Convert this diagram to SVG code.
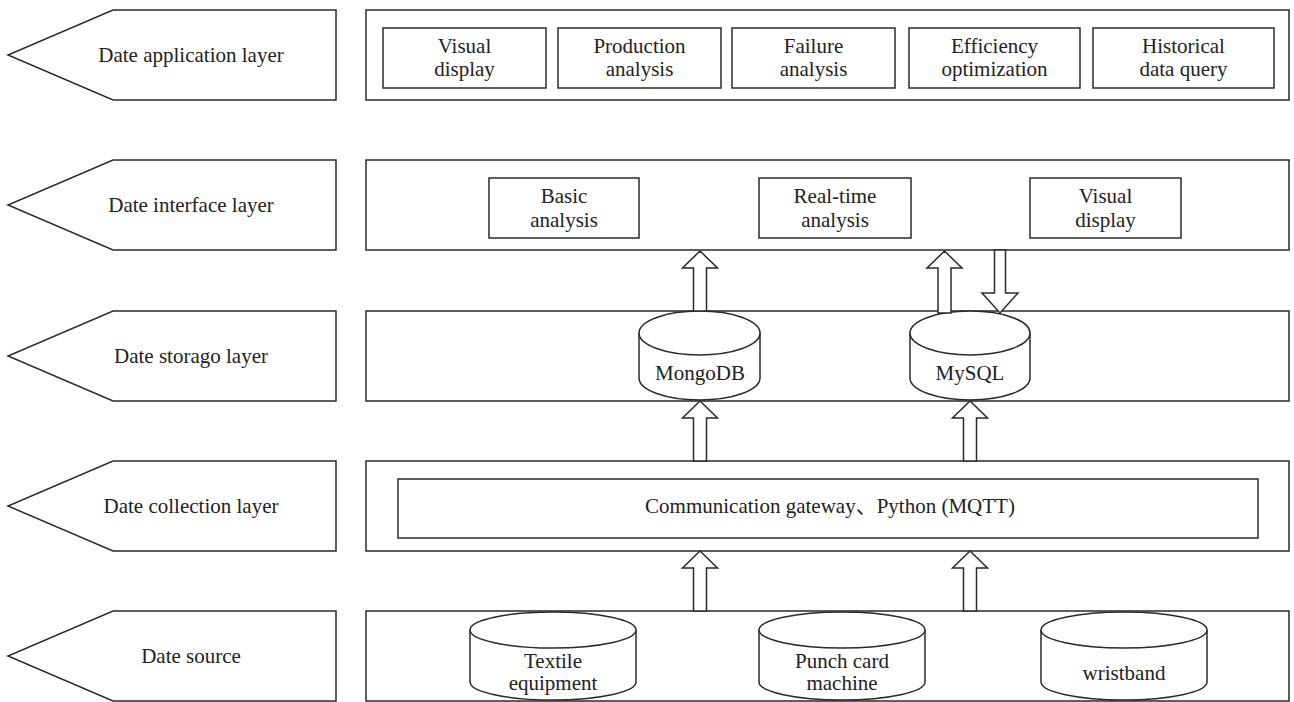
<svg xmlns="http://www.w3.org/2000/svg" width="1294" height="702" viewBox="0 0 1294 702">
<style>
.s{fill:#fff;stroke:#2a2a2a;stroke-width:1.5}
.t{font-family:"Liberation Serif","Noto Sans CJK SC",serif;font-size:21px;fill:#222;text-anchor:middle}
.l{font-family:"Liberation Serif",serif;font-size:21px;fill:#222;text-anchor:middle}
</style>
<defs>
<path id="up" class="s" d="M0,0 L17.5,17 L6.5,17 L6.5,60 L-6.5,60 L-6.5,17 L-17.5,17 Z"/>
</defs>
<rect width="1294" height="702" fill="#fff"/>

<g id="label-application"><path class="s" d="M113,10 L336,10 L336,100 L113,100 L8,55 Z"/><text class="l" x="191" y="62">Date application layer</text></g>
<g id="label-interface"><path class="s" d="M113,160 L336,160 L336,250 L113,250 L8,205 Z"/><text class="l" x="191" y="212">Date interface layer</text></g>
<g id="label-storage"><path class="s" d="M113,311 L336,311 L336,401 L113,401 L8,356 Z"/><text class="l" x="191" y="363">Date storago layer</text></g>
<g id="label-collection"><path class="s" d="M113,461 L336,461 L336,551 L113,551 L8,506 Z"/><text class="l" x="191" y="513">Date collection layer</text></g>
<g id="label-source"><path class="s" d="M113,611 L336,611 L336,701 L113,701 L8,656 Z"/><text class="l" x="191" y="663">Date source</text></g>

<g id="panel-application">
<rect class="s" x="366" y="10" width="923" height="90"/>
<g id="app-visual"><rect class="s" x="383" y="28" width="163" height="60"/><text class="t" x="464.5" y="53">Visual</text><text class="t" x="464.5" y="76">display</text></g>
<g id="app-production"><rect class="s" x="558" y="28" width="163" height="60"/><text class="t" x="639.5" y="53">Production</text><text class="t" x="639.5" y="76">analysis</text></g>
<g id="app-failure"><rect class="s" x="732" y="28" width="163" height="60"/><text class="t" x="813.5" y="53">Failure</text><text class="t" x="813.5" y="76">analysis</text></g>
<g id="app-efficiency"><rect class="s" x="909" y="28" width="171" height="60"/><text class="t" x="994.5" y="53">Efficiency</text><text class="t" x="994.5" y="76">optimization</text></g>
<g id="app-historical"><rect class="s" x="1093" y="28" width="181" height="60"/><text class="t" x="1183.5" y="53">Historical</text><text class="t" x="1183.5" y="76">data query</text></g>
</g>

<g id="panel-interface">
<rect class="s" x="366" y="160" width="923" height="90"/>
<g id="if-basic"><rect class="s" x="489" y="178" width="150" height="60"/><text class="t" x="564" y="203">Basic</text><text class="t" x="564" y="227">analysis</text></g>
<g id="if-realtime"><rect class="s" x="759" y="178" width="152" height="60"/><text class="t" x="835" y="203">Real-time</text><text class="t" x="835" y="227">analysis</text></g>
<g id="if-visual"><rect class="s" x="1030" y="178" width="151" height="60"/><text class="t" x="1105.5" y="203">Visual</text><text class="t" x="1105.5" y="227">display</text></g>
</g>

<g id="panel-storage">
<rect class="s" x="366" y="311" width="923" height="90"/>
<g id="db-mongodb"><path class="s" d="M639,333 L639,378 A60.5,22 0 0 0 760,378 L760,333"/><ellipse class="s" cx="699.5" cy="333" rx="60.5" ry="22"/><text class="t" x="700" y="380">MongoDB</text></g>
<g id="db-mysql"><path class="s" d="M910,333 L910,378 A60,22 0 0 0 1030,378 L1030,333"/><ellipse class="s" cx="970" cy="333" rx="60" ry="22"/><text class="t" x="970" y="380">MySQL</text></g>
</g>

<g id="panel-collection">
<rect class="s" x="366" y="461" width="923" height="90"/>
<g id="gateway"><rect class="s" x="398" y="479" width="860" height="59"/><text class="t" x="830" y="513">Communication gateway、Python (MQTT)</text></g>
</g>

<g id="panel-source">
<rect class="s" x="366" y="611" width="923" height="90"/>
<g id="src-textile"><path class="s" d="M470,630 L470,682 A83,18 0 0 0 636,682 L636,630"/><ellipse class="s" cx="553" cy="630" rx="83" ry="18"/><text class="t" x="553" y="668">Textile</text><text class="t" x="553" y="690">equipment</text></g>
<g id="src-punch"><path class="s" d="M759,630 L759,682 A83,18 0 0 0 925,682 L925,630"/><ellipse class="s" cx="842" cy="630" rx="83" ry="18"/><text class="t" x="842" y="668">Punch card</text><text class="t" x="842" y="690">machine</text></g>
<g id="src-wristband"><path class="s" d="M1041,630 L1041,682 A83,18 0 0 0 1207,682 L1207,630"/><ellipse class="s" cx="1124" cy="630" rx="83" ry="18"/><text class="t" x="1124" y="680">wristband</text></g>
</g>

<g id="connectors">
<path class="s" d="M700,251 L717.5,268 L706.5,268 L706.5,311 L693.5,311 L693.5,268 L682.5,268 Z"/>
<path class="s" d="M944.5,251 L962,268 L951,268 L951,313 L938,313 L938,268 L927,268 Z"/>
<path class="s" d="M994.5,250 L1005.5,250 L1005.5,293 L1018,293 L1000,313 L982,293 L994.5,293 Z"/>
<path class="s" d="M700,401 L717.5,418 L706.5,418 L706.5,461 L693.5,461 L693.5,418 L682.5,418 Z"/>
<path class="s" d="M970,401 L987.5,418 L976.5,418 L976.5,461 L963.5,461 L963.5,418 L952.5,418 Z"/>
<path class="s" d="M700,551 L717.5,568 L706.5,568 L706.5,611 L693.5,611 L693.5,568 L682.5,568 Z"/>
<path class="s" d="M970,551 L987.5,568 L976.5,568 L976.5,611 L963.5,611 L963.5,568 L952.5,568 Z"/>
</g>
</svg>
